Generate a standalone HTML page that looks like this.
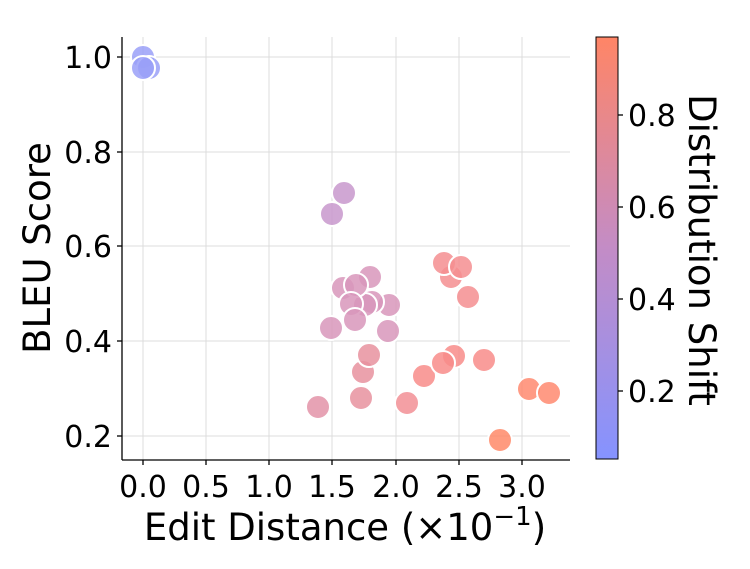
<!DOCTYPE html><html><head><style>body{margin:0;background:#fff}svg text{font-family:"DejaVu Sans","Liberation Sans",sans-serif;fill:#000}</style></head><body>
<svg width="750" height="564" xmlns="http://www.w3.org/2000/svg">
<defs><linearGradient id="cb" x1="0" y1="1" x2="0" y2="0"><stop offset="0" stop-color="#8593ff"/><stop offset="0.5" stop-color="#c38cc6"/><stop offset="1" stop-color="#ff8566"/></linearGradient></defs>
<g stroke="#dcdcdc" stroke-width="1">
<line x1="143" y1="37" x2="143" y2="460"/><line x1="206" y1="37" x2="206" y2="460"/><line x1="269" y1="37" x2="269" y2="460"/><line x1="332" y1="37" x2="332" y2="460"/><line x1="396" y1="37" x2="396" y2="460"/><line x1="459" y1="37" x2="459" y2="460"/><line x1="522" y1="37" x2="522" y2="460"/>
<line x1="122" y1="57" x2="570" y2="57"/><line x1="122" y1="152" x2="570" y2="152"/><line x1="122" y1="246" x2="570" y2="246"/><line x1="122" y1="341" x2="570" y2="341"/><line x1="122" y1="436" x2="570" y2="436"/>
</g>
<g stroke="#fff" stroke-width="2" fill-opacity="0.85">
<circle cx="143" cy="57" r="12" fill="#9aa0f8"/><circle cx="149" cy="68" r="12" fill="#9aa0f8"/><circle cx="143" cy="68" r="12" fill="#9aa0f8"/>
<circle cx="344" cy="193" r="12" fill="#c898cc"/><circle cx="332" cy="214" r="12" fill="#c898cc"/>
<circle cx="370" cy="277" r="12" fill="#d897bb"/><circle cx="343" cy="288" r="12" fill="#d897bb"/><circle cx="389" cy="305" r="12" fill="#d897bb"/><circle cx="372" cy="302" r="12" fill="#d897bb"/><circle cx="365" cy="305" r="12" fill="#d897bb"/><circle cx="356" cy="285" r="12" fill="#d897bb"/><circle cx="351" cy="304" r="12" fill="#d897bb"/><circle cx="331" cy="328" r="12" fill="#d897bb"/><circle cx="388" cy="331" r="12" fill="#d897bb"/><circle cx="355" cy="320" r="12" fill="#d897bb"/>
<circle cx="363" cy="372" r="12" fill="#e8929f"/><circle cx="369" cy="355" r="12" fill="#e8929f"/><circle cx="361" cy="398" r="12" fill="#e8929f"/><circle cx="318" cy="407" r="12" fill="#e393a8"/><circle cx="407" cy="403" r="12" fill="#f28f95"/>
<circle cx="424" cy="376" r="12" fill="#f88c8a"/><circle cx="454" cy="356" r="12" fill="#f88c8a"/><circle cx="443" cy="363" r="12" fill="#f88c8a"/><circle cx="484" cy="360" r="12" fill="#f88c8a"/>
<circle cx="451" cy="277" r="12" fill="#f48e90"/><circle cx="444" cy="263" r="12" fill="#f48e90"/><circle cx="461" cy="267" r="12" fill="#f48e90"/><circle cx="468" cy="297" r="12" fill="#f48e90"/>
<circle cx="529" cy="389" r="12" fill="#ff8a70"/><circle cx="549" cy="393" r="12" fill="#ff8a70"/><circle cx="500" cy="440" r="12" fill="#ff8a68"/>
</g>
<g stroke="#000" stroke-width="1.3">
<line x1="122" y1="37" x2="122" y2="460"/><line x1="122" y1="460" x2="570" y2="460"/>
<line x1="117" y1="57" x2="122" y2="57"/><line x1="117" y1="152" x2="122" y2="152"/><line x1="117" y1="246" x2="122" y2="246"/><line x1="117" y1="341" x2="122" y2="341"/><line x1="117" y1="436" x2="122" y2="436"/>
<line x1="143" y1="460" x2="143" y2="465"/><line x1="206" y1="460" x2="206" y2="465"/><line x1="269" y1="460" x2="269" y2="465"/><line x1="332" y1="460" x2="332" y2="465"/><line x1="396" y1="460" x2="396" y2="465"/><line x1="459" y1="460" x2="459" y2="465"/><line x1="522" y1="460" x2="522" y2="465"/>
</g>
<g font-size="30" text-anchor="end">
<text x="112" y="68">1.0</text><text x="112" y="163">0.8</text><text x="112" y="257">0.6</text><text x="112" y="352">0.4</text><text x="112" y="447">0.2</text></g>
<g font-size="30" text-anchor="middle">
<text x="143" y="497">0.0</text><text x="206" y="497">0.5</text><text x="269" y="497">1.0</text><text x="332" y="497">1.5</text><text x="396" y="497">2.0</text><text x="459" y="497">2.5</text><text x="522" y="497">3.0</text></g>
<text x="345" y="540" font-size="37" text-anchor="middle">Edit Distance (×10<tspan dy="-15" font-size="26">−1</tspan><tspan dy="15">)</tspan></text>
<text transform="translate(50,248) rotate(-90)" font-size="37" text-anchor="middle">BLEU Score</text>
<rect x="596" y="37" width="22" height="422" fill="url(#cb)" stroke="#000" stroke-width="1"/>
<g stroke="#000" stroke-width="1.3"><line x1="618" y1="115" x2="623" y2="115"/><line x1="618" y1="207" x2="623" y2="207"/><line x1="618" y1="299" x2="623" y2="299"/><line x1="618" y1="391" x2="623" y2="391"/></g>
<g font-size="30"><text x="628" y="126">0.8</text><text x="628" y="218">0.6</text><text x="628" y="310">0.4</text><text x="628" y="402">0.2</text></g>
<text transform="translate(689,250) rotate(90)" font-size="37" text-anchor="middle">Distribution Shift</text>
</svg></body></html>
